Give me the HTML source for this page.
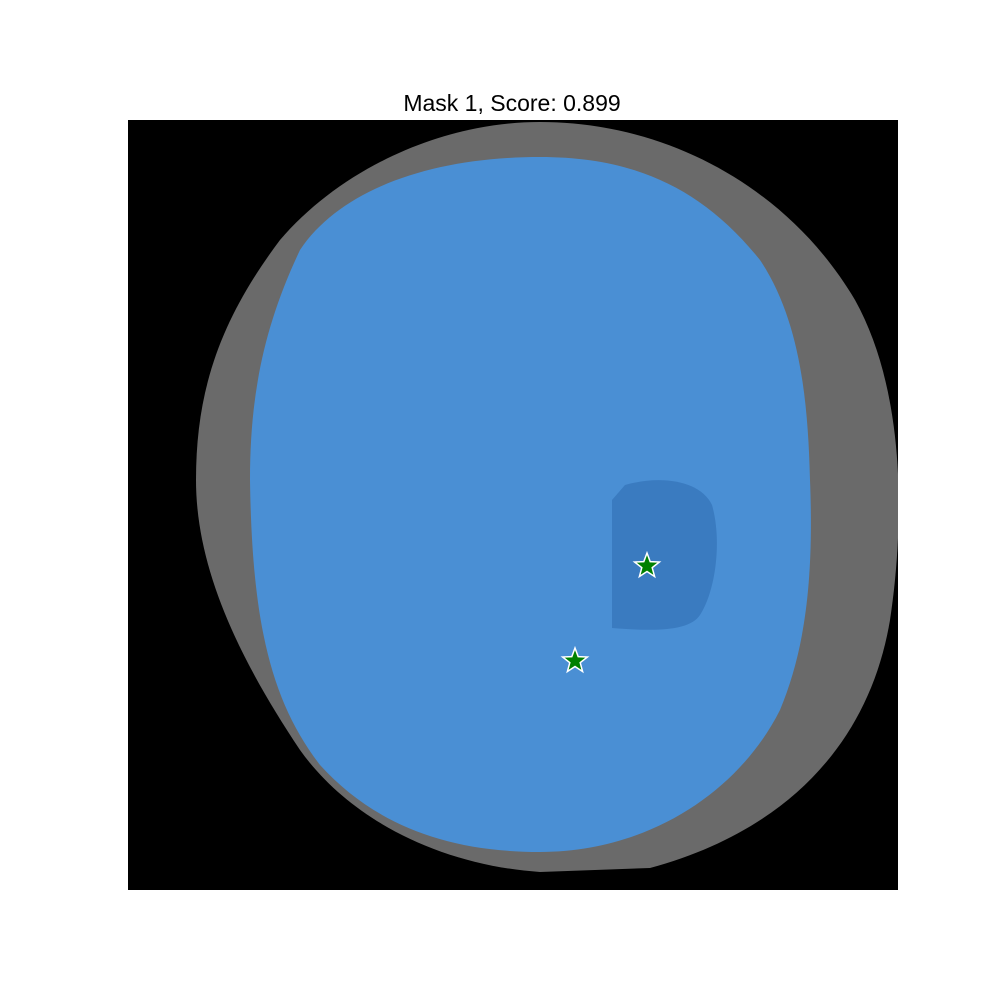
<!DOCTYPE html>
<html><head><meta charset="utf-8"><style>
body{margin:0;background:#fff}
svg{display:block}
</style></head><body>
<svg width="1000" height="1000" viewBox="0 0 1000 1000">
<text x="512" y="111" font-family="Liberation Sans, sans-serif" font-size="23" text-anchor="middle" fill="#000">Mask 1, Score: 0.899</text>
<defs><clipPath id="ax"><rect x="128" y="120" width="770" height="770"/></clipPath></defs>
<g clip-path="url(#ax)">
<rect x="128" y="120" width="770" height="770" fill="#000"/>
<path fill="#6a6a6a" d="M540,122 C670,122 790,190 855,300 C905,390 905,520 890,620 C870,740 790,830 650,868 L540,872 C440,865 350,820 300,750 C240,660 196,570 196,480 C196,390 220,320 280,240 C340,170 440,122 540,122 Z"/>
<path fill="#4a8fd4" d="M540,157 C630,157 700,185 760,260 C800,320 808,400 810,480 C814,580 805,650 780,710 C740,790 650,852 540,852 C440,852 370,820 320,765 C270,700 252,620 250,480 C250,400 262,330 300,250 C340,190 430,157 540,157 Z"/>
<path fill="#3a7bc0" d="M625,485 C660,475 700,480 712,505 C722,540 716,590 700,615 C690,630 660,632 612,628 L612,500 Z"/>
</g>
<g id="stars"></g>
</svg>
<script>
const xs=[647,575];
const ys=[566,661];
const g=document.getElementById('stars');
function star(cx,cy,r){let p=[];for(let i=0;i<10;i++){const a=-Math.PI/2+i*Math.PI/5;const rr=i%2?r*0.42:r;p.push((cx+rr*Math.cos(a)).toFixed(1)+','+(cy+rr*Math.sin(a)).toFixed(1));}return p.join(' ');}
for(let i=0;i<xs.length;i++){
const s=document.createElementNS('http://www.w3.org/2000/svg','polygon');
s.setAttribute('points',star(xs[i],ys[i],13));
s.setAttribute('fill','#008000');
s.setAttribute('stroke','#ffffff');
s.setAttribute('stroke-width','1.5');


g.appendChild(s);
}
</script>
</body></html>
